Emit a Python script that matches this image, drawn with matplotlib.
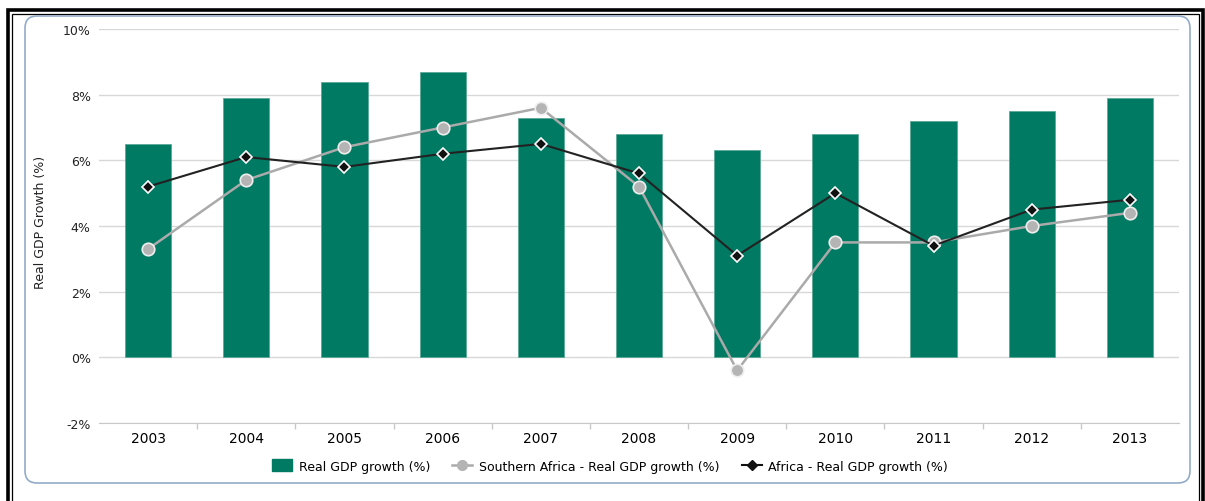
import numpy as np
import matplotlib
matplotlib.use("Agg")
import matplotlib.pyplot as plt
from matplotlib.patches import Rectangle, FancyBboxPatch
from matplotlib.lines import Line2D

# data
years = ["2003", "2004", "2005", "2006", "2007", "2008",
         "2009", "2010", "2011", "2012", "2013"]
real_gdp = [6.5, 7.9, 8.4, 8.7, 7.3, 6.8, 6.3, 6.8, 7.2, 7.5, 7.9]
southern_africa = [3.3, 5.4, 6.4, 7.0, 7.6, 5.2, -0.4, 3.5, 3.5, 4.0, 4.4]
africa = [5.2, 6.1, 5.8, 6.2, 6.5, 5.6, 3.1, 5.0, 3.4, 4.5, 4.8]
yticks = [-2, 0, 2, 4, 6, 8, 10]

W, H = 1205, 502
fig = plt.figure(figsize=(W / 100, H / 100), dpi=100)
fig.patch.set_facecolor("white")

def fx(px):
    return px / W

def fy(py):
    return 1 - py / H

# outer double black frame (thick outside, thin inside)
fig.add_artist(Rectangle((fx(8), fy(540)), fx(1203 - 8), (540 - 10.5) / H, transform=fig.transFigure,
                         fill=False, edgecolor="black", linewidth=2.6, zorder=0))
fig.add_artist(Rectangle((fx(11.5), fy(540)), fx(1198.5 - 11.5), (540 - 14.5) / H, transform=fig.transFigure,
                         fill=False, edgecolor="black", linewidth=0.9, zorder=0))
# inner rounded panel
fig.add_artist(FancyBboxPatch((fx(25), fy(484)), fx(1165), (484 - 17) / H,
                              boxstyle="round,pad=0,rounding_size=0.010",
                              transform=fig.transFigure, facecolor="white",
                              edgecolor="#93abc9", linewidth=1.2, zorder=0,
                              mutation_aspect=W / H))

ax = fig.add_axes([fx(99), fy(424), fx(1179 - 99), (424 - 30) / H])
ax.set_facecolor("none")
x = np.arange(len(years))

ax.bar(x, real_gdp, width=0.47, color="#007a62", edgecolor="#5aa896",
       linewidth=0.6, zorder=2, label="Real GDP growth (%)")
ax.plot(x, southern_africa, color="#aaaaaa", linewidth=1.8, marker="o",
        markersize=9, markerfacecolor="#b4b4b4", markeredgecolor="#eeeeee",
        markeredgewidth=1.2, zorder=3, label="Southern Africa - Real GDP growth (%)")
ax.plot(x, africa, color="#222222", linewidth=1.5, marker="D",
        markersize=6.5, markerfacecolor="#111111", markeredgecolor="white",
        markeredgewidth=1.2, zorder=4, label="Africa - Real GDP growth (%)")

ax.set_xlim(-0.5, len(years) - 0.5)
ax.set_ylim(-2, 10)
ax.set_yticks(yticks)
ax.set_yticklabels([f"{v}%" for v in yticks], fontsize=9, color="#222222")
ax.set_xticks(x)
ax.set_xticklabels(years, fontsize=9.5, color="#222222")
ax.set_xticks(np.arange(0.5, len(years) - 1), minor=True)
ax.tick_params(axis="x", which="major", length=0, pad=6)
ax.tick_params(axis="x", which="minor", length=4, color="#c8c8c8", width=1)
ax.tick_params(axis="y", length=0, pad=6)
ax.grid(axis="y", color="#d8d8d8", linewidth=1, zorder=0)
for s in ["top", "right", "left"]:
    ax.spines[s].set_visible(False)
ax.spines["bottom"].set_color("#c8c8c8")
ax.spines["bottom"].set_position(("data", -2))
ax.set_ylabel("Real GDP Growth (%)", fontsize=9, color="#222222")
ax.yaxis.set_label_coords((47 - 99) / 1080, (424 - 222) / 394)

handles = [
    Rectangle((0, 0), 1, 1, facecolor="#007a62", edgecolor="#007a62"),
    Line2D([], [], color="#aaaaaa", linewidth=1.8, marker="o", markersize=7,
           markerfacecolor="#b4b4b4", markeredgecolor="#b4b4b4"),
    Line2D([], [], color="#111111", linewidth=1.5, marker="D", markersize=5,
           markerfacecolor="#111111", markeredgecolor="#111111"),
]
labels = ["Real GDP growth (%)", "Southern Africa - Real GDP growth (%)",
          "Africa - Real GDP growth (%)"]
fig.legend(handles, labels, loc="center", bbox_to_anchor=(fx(610), fy(467)),
           ncol=3, frameon=False, fontsize=9, handlelength=1.6,
           handleheight=1.1, columnspacing=1.8, handletextpad=0.5)

fig.savefig("out.png", dpi=100)
